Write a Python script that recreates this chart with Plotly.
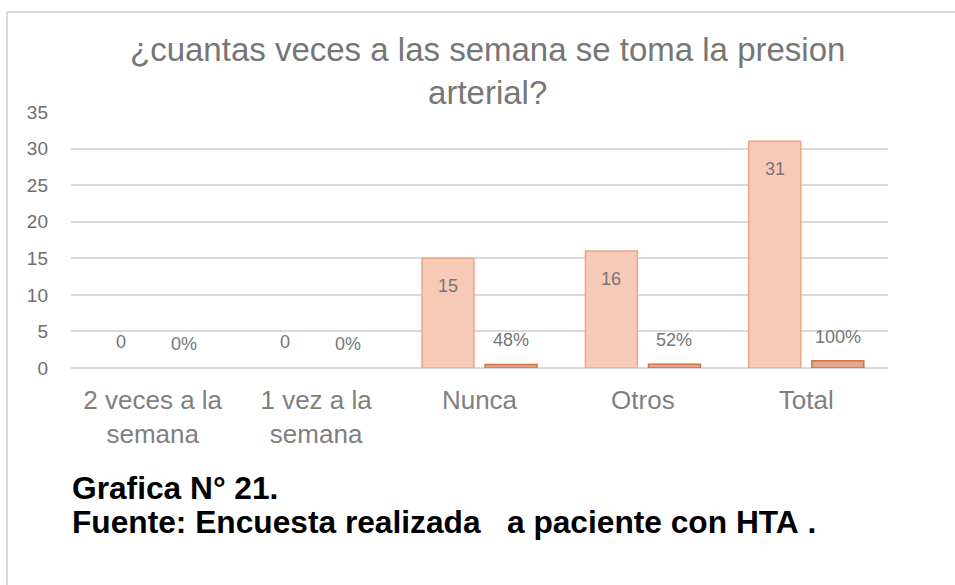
import plotly.graph_objects as go

categories = ["2 veces a la<br>semana", "1 vez a la<br>semana", "Nunca", "Otros", "Total"]
counts = [0, 0, 15, 16, 31]
shares = [0.0, 0.0, 0.48, 0.52, 1.0]
share_labels = ["0%", "0%", "48%", "52%", "100%"]
y_ticks = [0, 5, 10, 15, 20, 25, 30, 35]

title_text = "¿cuantas veces a las semana se toma la presion<br>arterial?"
caption1 = "Grafica N° 21."
caption2 = "Fuente: Encuesta realizada\u00a0\u00a0\u00a0a paciente con HTA\u00a0."

W, H = 955, 585
ML, MR, MT, MB = 71, 67, 112, 217
PW, PH = W - ML - MR, H - MT - MB

BAR_W = 0.318
OFF = 0.193

fig = go.Figure()
fig.add_trace(go.Bar(
    x=list(range(len(categories))), y=counts,
    width=BAR_W, offset=-OFF - BAR_W / 2,
    marker=dict(color="#f7cab8",
                line=dict(color="#efa487", width=[1.5 if v > 0 else 0 for v in counts])),
    hoverinfo="skip", showlegend=False,
))
fig.add_trace(go.Bar(
    x=list(range(len(categories))), y=shares,
    width=BAR_W, offset=OFF - BAR_W / 2,
    marker=dict(color="#e2a78e",
                line=dict(color="#d2743e", width=[1.5 if v > 0 else 0 for v in shares])),
    hoverinfo="skip", showlegend=False,
))

FONT = "Liberation Sans, Arial, sans-serif"
label_font = dict(family=FONT, size=18, color="#767676")
annotations = []
for i, v in enumerate(counts):
    annotations.append(dict(
        x=i - OFF, y=v, xref="x", yref="y", text=str(v), showarrow=False,
        yshift=(-28 if v > 0 else 26), font=label_font,
    ))
for i, v in enumerate(shares):
    annotations.append(dict(
        x=i + OFF, y=v, xref="x", yref="y", text=share_labels[i], showarrow=False,
        yshift=24, font=label_font,
    ))

def px_x(p):
    return (p - ML) / PW

def px_y(p):
    return (H - MB - p) / PH

annotations.append(dict(x=px_x(487), y=px_y(71), xref="paper", yref="paper",
                        text=title_text, showarrow=False,
                        xanchor="center", yanchor="middle",
                        font=dict(family=FONT, size=33, color="#767676")))

cap_font = dict(family=FONT, size=31.7, color="#000000")
annotations.append(dict(x=px_x(70), y=px_y(488), xref="paper", yref="paper",
                        text="<b>" + caption1 + "</b>", showarrow=False,
                        xanchor="left", yanchor="middle", font=cap_font))
annotations.append(dict(x=px_x(70), y=px_y(522), xref="paper", yref="paper",
                        text="<b>" + caption2 + "</b>", showarrow=False,
                        xanchor="left", yanchor="middle", font=cap_font))

shapes = [
    dict(type="line", xref="paper", yref="paper", x0=px_x(7), x1=px_x(7), y0=px_y(12), y1=px_y(H + 5),
         line=dict(color="#d9d9d9", width=2)),
    dict(type="line", xref="paper", yref="paper", x0=px_x(7), x1=px_x(W + 5), y0=px_y(12), y1=px_y(12),
         line=dict(color="#d9d9d9", width=2)),
]

fig.update_layout(
    width=W, height=H,
    margin=dict(l=ML, r=MR, t=MT, b=MB),
    paper_bgcolor="white", plot_bgcolor="white",
    barmode="overlay",
    xaxis=dict(range=[-0.5, len(categories) - 0.5], tickmode="array",
               tickvals=list(range(len(categories))), ticktext=categories,
               showgrid=False, zeroline=False, showline=False, ticks="",
               ticklabelstandoff=14,
               tickfont=dict(family=FONT, size=26, color="#7f7f7f")),
    yaxis=dict(range=[0, 35], tickvals=y_ticks, showgrid=True, gridcolor="#d9d9d9", gridwidth=1.5,
               zeroline=True, zerolinecolor="#d9d9d9", zerolinewidth=1.5, showline=False, ticks="",
               ticklabelstandoff=22,
               tickfont=dict(family=FONT, size=19, color="#6e6e6e")),
    annotations=annotations,
    shapes=shapes,
)

fig.write_html("out.html", config={"displayModeBar": False},
               post_script="document.body.style.margin='0';document.body.style.overflow='hidden';")
